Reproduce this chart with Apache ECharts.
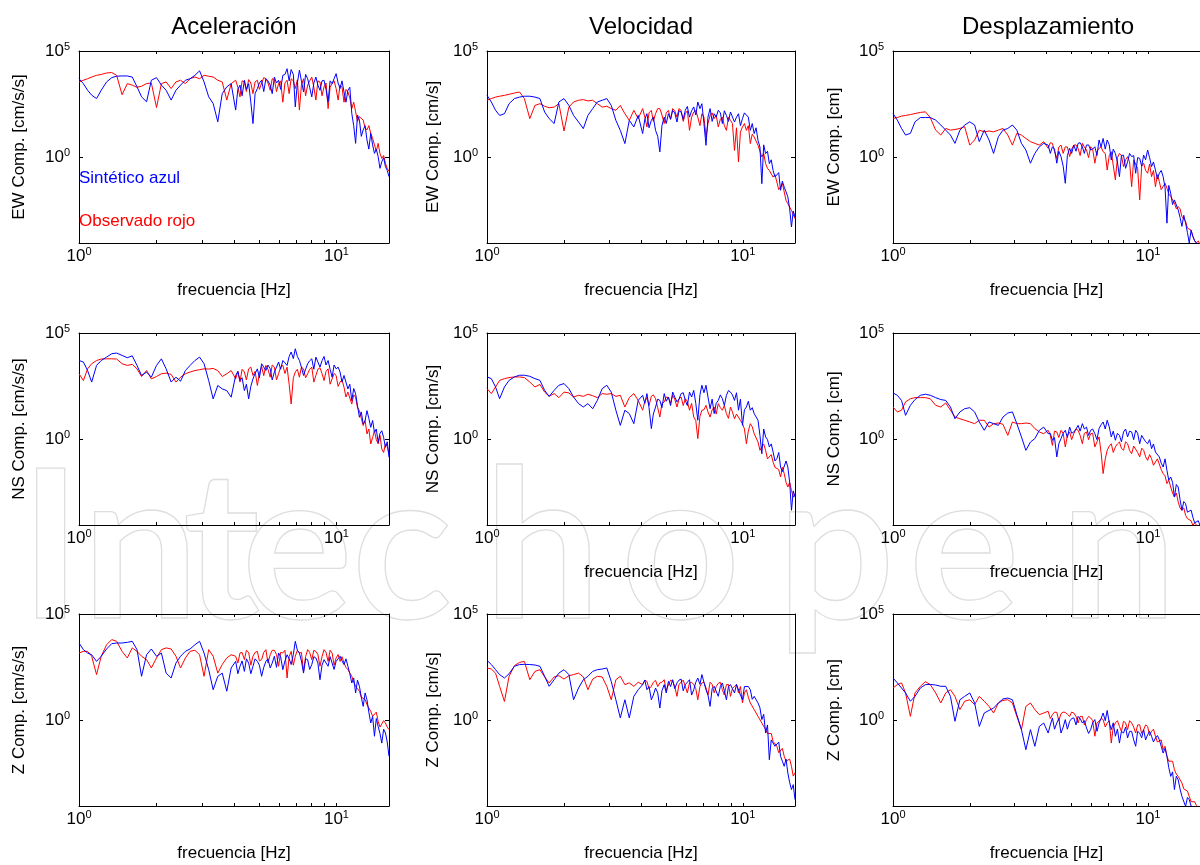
<!DOCTYPE html>
<html>
<head>
<meta charset="utf-8">
<script src="https://cdn.jsdelivr.net/npm/echarts@6/dist/echarts.min.js"></script>
<style>
  html, body { margin: 0; padding: 0; background: #fff; }
  #container { width: 1200px; height: 865px; }
</style>
</head>
<body>
<div id="container"></div>
<script>
// frequency samples [Hz], shared by every panel
var freq = [1.00,1.04,1.08,1.12,1.17,1.22,1.28,1.34,1.40,1.47,1.54,1.61,1.68,1.75,1.83,1.91,2.00,2.09,2.18,2.28,
  2.38,2.48,2.59,2.70,2.82,2.94,3.06,3.19,3.32,3.46,3.60,3.75,3.90,
  4.06,4.14,4.22,4.30,4.39,4.47,4.56,4.65,4.74,4.83,4.93,5.02,5.12,5.22,5.32,5.42,5.53,5.63,5.74,5.85,
  5.96,6.07,6.19,6.31,6.43,6.55,6.67,6.80,6.92,7.05,7.18,7.31,7.45,7.59,7.73,7.87,8.02,8.17,8.32,8.47,
  8.63,8.79,8.95,9.11,9.28,9.45,9.62,9.79,9.97,10.15,10.33,10.51,10.70,10.89,11.08,11.27,11.47,11.67,11.87,12.07,
  12.28,12.49,12.70,12.92,13.14,13.36,13.59,13.82,14.05,14.28,14.52,14.76,15.00,15.25,15.50,15.75,16.00];

// spectral amplitudes, log10 of the value
// Obs = observado (rojo), Syn = sintetico (azul)
var accEwObs = [3.55,3.63,3.70,3.78,3.86,3.90,3.97,3.99,3.86,2.95,3.47,3.40,3.30,3.35,3.47,3.50,2.35,3.47,3.55,3.24,
  3.55,3.63,3.47,3.70,3.78,3.70,3.86,3.82,3.78,3.63,3.55,2.70,3.47,
  3.63,3.3,2.85,3.6,3.55,3.1,3.66,3.5,3.00,3.55,3.63,3.2,3.50,3.75,3.70,3.5,3.16,3.7,3.66,3.1,3.47,3.6,2.60,3.5,
  3.63,3.0,3.70,3.6,3.24,3.65,2.23,3.4,3.70,2.9,3.40,3.6,3.78,3.3,2.70,3.6,3.55,2.9,3.32,3.5,2.30,3.3,3.47,3.6,
  3.24,2.7,3.40,3.3,2.60,3.2,3.08,2.8,2.30,2.6,2.15,1.7,1.92,2.0,1.76,1.4,1.30,1.5,1.14,0.9,0.60,0.3,0.67,0.2,
  -0.03,0.1,-0.27,-0.5,-0.65];
var accEwSyn = [3.70,3.47,3.16,2.93,2.77,3.16,3.55,3.75,3.82,3.83,3.83,3.78,3.32,2.85,2.62,3.63,3.75,3.40,3.16,2.70,
  3.16,3.40,3.63,3.70,3.86,4.07,3.55,2.85,2.54,1.68,3.00,3.32,3.47,
  2.23,3.2,3.40,2.9,3.63,3.2,3.47,2.6,1.60,3.0,3.24,3.5,3.63,3.1,3.70,3.6,3.40,3.0,3.78,3.5,3.63,3.2,3.86,3.9,
  4.17,3.6,4.13,3.9,2.38,3.5,4.10,3.6,3.08,3.9,3.70,3.3,2.85,3.5,3.78,3.4,3.16,3.6,3.63,3.2,2.62,3.6,3.47,3.7,
  3.94,3.5,3.24,3.6,3.08,2.6,3.16,3.3,2.07,1.5,0.67,2.0,1.76,1.0,1.30,1.5,0.83,0.4,1.14,0.6,0.20,0.4,0.05,-0.5,
  -0.19,0.0,-0.42,-0.6,-0.89];
var velEwObs = [2.69,2.77,2.84,2.88,2.92,2.97,3.03,3.08,2.77,1.83,2.45,2.53,2.41,2.34,2.37,2.53,1.25,2.37,2.61,2.69,
  2.72,2.66,2.69,2.53,2.37,2.41,2.30,2.22,2.45,2.06,1.75,2.22,1.83,
  2.30,1.9,1.44,2.1,2.22,1.7,2.06,2.3,2.30,2.0,1.60,2.1,2.22,1.8,2.30,2.2,1.90,2.3,2.22,1.7,2.06,2.2,1.28,1.9,
  2.14,2.2,1.90,1.5,2.06,1.9,0.97,1.6,1.98,2.1,1.83,2.0,1.44,1.8,1.90,1.5,1.28,1.9,1.75,1.6,0.34,1.4,-0.20,1.2,
  1.44,1.6,1.28,1.5,0.66,1.1,0.97,0.9,0.58,0.5,0.03,0.2,-0.28,-0.5,-0.60,-0.6,-0.91,-0.8,-1.14,-1.5,-1.38,-1.2,
  -1.61,-2.0,-2.16,-2.1,-2.47,-2.5,-2.86];
var velEwSyn = [2.92,2.61,2.22,1.98,2.06,2.53,2.77,2.84,2.88,2.88,2.84,2.77,2.14,1.83,1.60,2.61,2.77,2.45,1.98,1.67,
  1.36,1.98,2.30,2.61,2.69,2.77,2.45,1.75,1.28,0.66,1.75,1.44,1.98,
  1.13,1.8,2.06,1.4,1.75,1.9,1.28,1.0,0.27,1.5,1.90,1.6,2.06,1.8,2.22,2.1,1.67,2.2,2.14,1.8,2.22,2.4,1.90,2.2,
  2.38,2.0,2.61,2.3,2.53,1.6,0.58,1.9,2.30,1.7,2.06,1.9,2.22,2.1,1.60,2.2,1.98,1.7,2.14,2.2,1.67,1.9,2.06,1.5,
  1.83,2.1,2.06,1.9,1.28,1.6,1.13,1.4,0.81,0.5,-1.22,0.6,0.19,0.3,-0.28,-0.1,-0.60,-0.9,-0.98,-0.7,-1.53,-1.1,
  -1.38,-1.6,-1.84,-2.4,-3.25,-2.5,-2.78];
var dspEwObs = [1.84,1.88,1.95,1.98,2.02,2.07,2.12,2.15,1.88,1.29,1.06,1.37,1.29,1.32,1.37,1.45,0.59,0.83,1.29,1.21,
  1.25,1.21,1.29,1.37,1.06,0.59,1.14,1.06,0.90,0.75,0.67,0.59,0.75,
  0.44,0.7,0.67,0.3,-0.03,0.5,0.59,0.2,0.51,0.5,0.05,0.4,0.59,0.6,0.44,0.1,0.67,0.5,0.36,0.0,0.51,0.4,-0.26,0.3,
  0.44,0.5,0.28,0.2,-0.58,0.1,0.28,0.3,-1.04,0.0,0.20,0.1,-0.42,-0.1,0.05,-0.2,-1.36,-0.1,-0.11,-0.5,-1.98,-0.4,
  -0.26,-0.6,-0.73,-0.3,-0.89,-0.6,-1.36,-0.8,-1.12,-1.5,-1.51,-1.2,-1.43,-1.7,-1.82,-1.8,-2.13,-2.4,-2.29,-2.4,
  -2.76,-2.7,-2.99,-3.3,-3.38,-3.4,-3.69,-3.9,-4.00,-3.9,-4.08];
var dspEwSyn = [2.07,1.76,1.37,1.06,1.14,1.68,1.88,1.88,1.88,1.76,1.53,1.29,1.06,0.67,1.29,1.53,1.68,1.53,0.75,1.29,
  0.83,0.20,0.98,1.29,1.37,1.53,1.29,0.67,0.36,-0.26,0.20,0.51,0.67,
  0.59,0.2,0.51,0.4,-0.26,0.3,0.05,-0.4,-1.20,0.1,0.44,0.2,0.59,0.3,0.67,0.7,0.51,0.2,0.59,0.6,0.36,0.4,0.51,0.1,
  0.83,0.5,0.90,0.4,0.83,0.6,-0.11,0.4,0.20,-0.2,-0.89,0.1,0.12,-0.5,-0.19,0.2,0.05,0.1,-0.73,0.0,-0.03,-0.4,
  0.12,-0.1,0.36,0.0,-0.42,-0.2,-0.58,-1.0,-0.73,-0.6,-0.89,-1.4,-3.07,-1.3,-1.67,-2.2,-1.98,-1.9,-2.45,-2.8,
  -3.22,-2.7,-3.07,-3.5,-4.00,-3.4,-3.69,-3.9,-4.00,-4.1,-4.15];

var accNsObs = [3.09,2.77,3.32,3.56,3.71,3.78,3.79,3.79,3.78,3.56,3.48,3.53,3.32,2.96,3.24,2.85,2.96,3.09,3.12,3.06,
  2.70,2.93,3.09,3.17,3.24,3.28,3.32,3.31,3.34,3.24,2.96,3.09,3.24,
  2.85,3.2,2.70,3.3,3.17,2.8,3.32,3.4,3.01,3.2,2.54,3.1,3.43,3.0,3.48,3.3,2.93,3.5,3.40,2.8,3.09,3.4,3.48,3.1,
  3.40,2.6,1.67,2.9,3.17,3.3,2.93,3.4,3.32,2.9,3.09,3.3,3.40,2.7,3.01,3.3,3.37,3.1,2.77,3.2,3.32,2.6,2.85,3.1,
  3.01,2.5,2.70,2.8,2.46,2.0,2.23,2.3,1.67,2.1,1.99,1.5,1.36,1.0,0.66,0.9,0.27,0.5,-0.20,0.1,0.42,0.0,-0.20,0.2,
  -0.44,-0.6,-0.20,-0.3,-0.67];
var accNsSyn = [3.71,3.64,3.24,2.70,3.48,3.71,3.87,4.03,4.06,3.95,3.84,3.93,3.48,3.01,3.17,2.93,3.48,3.79,3.32,2.70,
  2.93,2.74,3.24,3.48,3.71,3.87,3.56,2.77,1.91,2.54,2.38,2.30,1.99,
  3.01,3.2,2.77,2.9,2.30,2.6,1.91,2.5,2.85,3.1,3.32,2.9,3.56,3.4,3.24,3.5,3.32,2.8,3.17,3.4,3.64,3.3,3.71,3.6,
  3.48,3.9,4.11,3.8,4.26,3.9,3.71,3.4,3.01,3.3,3.56,3.7,3.79,3.3,3.87,3.8,3.40,3.7,3.90,3.5,3.71,3.3,2.93,3.5,
  3.32,3.4,3.17,2.7,3.01,3.1,2.38,2.6,1.83,2.4,2.15,1.6,1.05,1.3,0.74,0.9,1.36,1.0,0.58,0.9,0.34,0.5,-0.13,0.3,
  0.42,0.1,-0.36,-0.1,-0.83];
var velNsObs = [2.39,2.16,2.47,2.78,2.86,2.91,2.94,2.94,2.91,2.70,2.47,2.59,2.23,2.03,2.16,1.97,2.23,2.19,2.00,2.08,
  2.03,2.13,2.06,1.97,2.16,2.13,2.16,2.03,2.08,1.53,1.97,2.16,1.84,
  1.38,1.8,1.97,1.6,2.03,2.1,1.92,1.5,1.06,1.7,1.77,2.0,1.97,1.7,2.08,1.9,1.53,1.9,2.00,1.6,1.92,1.8,1.38,1.7,
  1.06,0.9,0.05,1.1,1.38,1.4,1.61,1.3,1.06,1.4,1.53,1.2,1.69,1.5,1.38,1.6,1.22,1.0,1.53,1.3,0.98,1.2,1.14,0.9,
  0.75,0.5,-0.19,0.4,0.75,0.6,0.28,0.3,-0.11,-0.5,-0.34,-0.2,-0.50,-0.9,-0.81,-0.7,-1.05,-1.3,-1.28,-1.4,-1.75,-1.3,
  -1.59,-2.0,-2.22,-2.0,-2.38,-2.7,-2.53];
var velNsSyn = [2.94,2.86,2.47,1.92,2.47,2.78,2.94,3.02,3.02,2.97,2.86,2.78,2.31,2.03,2.31,2.55,2.63,2.39,2.00,1.69,
  1.53,1.69,1.45,1.84,2.39,2.55,2.23,1.38,0.67,1.38,1.22,0.75,1.84,
  2.08,1.7,2.16,1.5,0.52,1.2,1.53,1.9,1.84,1.5,2.16,1.8,2.00,1.6,2.23,2.0,1.77,1.9,2.16,2.2,1.84,1.6,2.23,2.0,
  2.31,1.7,0.91,2.1,2.55,2.2,2.55,2.0,1.45,1.9,1.22,1.7,1.84,2.1,1.92,1.6,2.08,2.3,2.23,2.1,1.84,2.2,1.38,1.9,
  0.67,1.4,1.53,1.8,1.38,1.5,1.22,1.3,0.91,0.2,-0.66,0.5,0.13,0.0,-0.34,-0.2,-0.58,-1.0,-0.89,-0.6,-1.28,-1.5,
  -1.59,-1.0,-1.28,-2.0,-3.31,-2.4,-2.69];
var dspNsObs = [1.53,1.30,1.38,1.77,1.92,1.97,1.97,1.97,1.92,1.61,1.53,1.72,1.38,1.06,0.98,0.91,0.83,0.75,0.91,0.91,
  0.59,0.75,0.78,0.72,0.20,0.83,0.75,0.75,0.78,0.75,0.52,0.36,0.28,
  0.44,0.2,-0.27,0.4,0.36,0.1,0.44,0.3,-0.34,0.2,0.36,0.0,0.28,0.5,0.44,0.2,-0.19,0.3,0.36,0.0,0.28,0.3,-0.34,-0.1,
  0.13,-0.6,-1.59,-0.9,-0.50,-0.3,-0.19,-0.6,-0.34,-0.2,-0.11,-0.4,-0.50,-0.1,-0.19,-0.5,-0.66,-0.3,-0.34,-0.6,
  -0.81,-0.4,-0.50,-0.8,-0.97,-0.7,-0.89,-1.2,-1.13,-0.9,-0.97,-1.4,-1.59,-1.7,-2.06,-1.9,-2.22,-2.5,-2.69,-2.5,
  -2.92,-3.2,-3.31,-3.2,-3.55,-3.7,-3.78,-3.8,-4.02,-3.9,-3.94,-4.1,-4.06];
var dspNsSyn = [2.19,2.08,1.84,1.14,1.61,1.88,2.08,2.13,2.08,1.97,1.88,1.84,1.53,0.98,1.30,1.45,1.50,1.30,0.83,0.44,
  0.83,0.75,0.67,1.06,1.25,1.30,0.75,0.13,-0.50,-0.11,0.05,0.44,0.59,
  0.28,0.3,-0.03,0.1,-0.81,-0.2,0.05,0.3,0.44,0.1,0.59,0.3,0.36,0.5,0.67,0.4,0.75,0.5,0.59,0.2,0.44,0.5,0.28,0.0,
  0.52,0.7,0.83,0.5,0.91,0.6,0.13,0.4,-0.03,0.3,0.20,-0.1,0.36,0.5,0.13,0.4,0.36,0.0,0.44,0.3,-0.19,0.2,0.13,-0.1,
  -0.19,0.0,-0.42,-0.2,-0.58,-0.5,-0.81,-1.1,-1.28,-0.9,-1.44,-1.9,-1.75,-2.0,-2.69,-2.1,-2.22,-2.8,-3.31,-2.9,
  -3.00,-3.4,-3.47,-3.3,-3.63,-3.9,-3.94,-3.8,-4.02];

var accZObs = [3.17,3.25,3.25,3.02,2.16,3.02,3.56,3.80,3.72,3.25,2.94,3.41,3.25,3.02,2.86,2.47,2.94,3.33,3.41,3.36,
  3.02,2.47,2.94,3.25,3.30,3.09,2.08,3.33,3.02,2.23,2.63,2.94,3.09,
  3.02,2.7,3.17,3.2,2.86,3.3,3.20,2.6,3.02,3.2,3.25,2.8,2.86,3.2,3.33,2.7,3.09,3.3,3.30,3.1,2.55,3.2,3.17,3.3,
  2.00,3.0,3.25,2.6,3.02,3.3,3.17,3.2,2.31,3.0,3.33,3.2,2.86,3.3,3.25,3.1,2.55,3.0,3.33,3.2,2.78,3.3,3.17,2.6,
  2.94,3.1,2.78,3.0,2.70,2.5,2.39,2.4,2.08,1.8,1.61,1.7,1.38,1.1,1.14,1.0,0.75,0.8,0.44,0.2,0.20,0.4,-0.03,-0.3,
  -0.27,0.0,-0.11,-0.3,-0.42];
var accZSyn = [3.64,3.33,3.17,3.09,2.78,3.02,3.36,3.61,3.64,3.64,3.67,3.72,3.33,2.08,3.09,3.36,3.02,3.17,2.23,2.00,
  2.70,3.02,3.25,3.36,3.56,3.72,3.17,2.39,1.45,2.08,2.23,1.38,2.47,
  2.78,2.2,2.55,2.8,2.31,2.9,2.70,2.2,2.55,2.9,2.78,2.6,2.08,2.5,2.78,2.9,2.47,2.7,3.02,2.5,3.17,3.0,2.39,2.8,
  3.09,2.9,2.63,3.1,3.72,3.3,3.17,2.8,2.23,2.9,2.86,2.4,2.63,3.0,2.94,2.7,1.92,2.6,2.86,2.9,2.55,3.0,2.94,2.4,
  2.78,2.9,3.02,2.8,2.63,2.9,2.55,2.2,1.77,2.0,1.30,1.9,1.61,1.1,0.67,1.3,0.98,0.4,-0.11,0.2,-0.73,0.1,-0.27,-0.6,
  -1.05,-0.4,-0.58,-1.0,-1.67];
var velZObs = [2.47,2.42,2.23,1.61,0.90,2.08,2.58,2.73,2.78,1.92,2.31,2.39,2.05,1.77,2.05,2.11,1.95,2.11,2.16,2.23,
  2.05,1.45,1.95,2.08,2.05,1.61,0.98,1.92,2.08,1.69,1.77,1.61,1.80,
  1.69,1.9,1.84,1.5,1.61,1.8,1.89,1.6,1.77,1.8,1.92,1.4,1.69,1.9,1.84,1.6,1.14,1.7,1.80,1.9,1.61,1.3,1.77,1.8,
  1.69,1.5,0.98,1.6,1.77,1.8,1.53,1.2,1.80,1.7,1.30,1.6,1.75,1.8,1.45,1.2,1.69,1.7,1.14,1.5,1.61,1.7,1.30,1.6,
  0.83,1.3,1.45,1.1,0.83,0.9,0.52,0.5,0.20,0.2,-0.11,-0.1,-0.42,-0.6,-0.58,-0.6,-0.97,-0.9,-1.20,-1.5,-1.52,-1.3,
  -1.67,-1.9,-1.98,-1.8,-2.14,-2.6,-2.45];
var velZSyn = [2.83,2.63,2.39,2.16,2.00,2.20,2.55,2.63,2.64,2.63,2.61,2.55,2.08,1.61,1.92,2.23,2.39,2.16,0.98,1.53,
  1.92,2.08,2.31,2.39,2.42,2.47,1.84,0.98,0.13,0.98,0.13,1.14,1.45,
  1.69,1.9,1.45,1.6,0.98,1.2,1.53,1.3,0.59,1.4,1.69,1.3,1.84,1.6,1.92,1.5,1.77,1.9,1.95,1.4,1.69,1.8,1.92,1.2,
  1.45,1.8,2.00,1.7,2.16,1.8,1.45,1.2,0.67,1.5,1.61,1.7,1.14,1.6,1.77,1.4,0.98,1.6,1.69,1.5,1.30,1.7,1.61,1.2,
  0.98,1.6,1.53,1.6,1.45,1.0,1.14,1.2,0.83,0.6,0.05,0.3,-0.58,-0.2,-1.83,-0.9,-0.89,-1.2,-1.20,-1.0,-1.67,-1.9,
  -2.14,-1.8,-2.45,-2.9,-3.23,-3.0,-3.70];
var dspZObs = [1.53,1.69,1.77,1.30,0.20,1.30,1.61,1.83,1.69,1.30,0.83,1.30,1.45,1.14,0.52,0.91,0.98,0.75,1.14,0.91,
  0.67,0.36,0.83,0.95,0.98,0.83,0.20,-0.42,0.67,0.83,0.52,0.28,0.36,
  0.44,0.1,0.28,0.4,0.39,0.0,0.33,0.4,0.39,0.3,0.20,0.4,0.36,0.2,-0.11,0.2,0.20,-0.2,0.05,0.2,0.13,0.0,-0.73,-0.1,
  -0.03,0.1,0.05,-0.3,-0.11,0.0,-1.05,-0.3,-0.11,0.0,-0.27,-0.5,-0.03,-0.1,-0.42,0.0,-0.11,-0.3,-0.58,-0.2,-0.19,-0.6,
  -0.42,-0.2,-0.27,-0.7,-0.50,-0.4,-0.73,-1.0,-0.97,-0.9,-1.36,-1.2,-1.67,-1.9,-1.98,-1.9,-2.30,-2.5,-2.61,-2.6,
  -2.92,-3.2,-3.23,-3.3,-3.55,-3.8,-3.86,-3.8,-3.98,-4.1,-4.10];
var dspZSyn = [2.00,1.77,1.53,1.30,0.91,1.14,1.53,1.69,1.70,1.67,1.61,1.61,1.14,-0.03,0.98,1.14,1.30,0.83,-0.27,0.36,
  0.48,0.59,0.83,1.02,1.06,0.98,0.28,-0.42,-1.36,-0.42,-1.20,-0.27,-0.11,
  -0.58,-0.2,0.13,-0.4,-0.11,0.1,-0.58,-0.3,0.05,-0.4,-0.03,0.1,0.13,-0.2,0.20,0.1,-0.11,0.0,-0.34,-0.6,-0.42,-0.1,
  0.05,-0.5,-0.11,0.1,0.36,0.0,0.48,-0.1,-0.42,-0.1,-0.73,-0.4,-1.05,-0.5,-0.58,-0.3,-0.81,-0.5,-0.50,-0.9,-1.20,-0.5,
  -0.58,-0.8,-0.42,-0.9,-0.66,-0.5,-0.73,-1.0,-0.81,-0.7,-0.89,-1.2,-1.52,-1.3,-1.67,-2.2,-2.61,-2.4,-3.23,-2.6,
  -2.77,-3.2,-3.55,-3.6,-4.02,-3.6,-3.70,-4.0,-4.02,-4.1,-4.10,-4.1,-4.10];

// texts and ticks
var colTitles = ['Aceleración', 'Velocidad', 'Desplazamiento'];
var compNames = ['EW', 'NS', 'Z'];
var units = ['[cm/s/s]', '[cm/s]', '[cm]'];
var xTickVals = [1, 2, 3, 4, 5, 6, 7, 8, 9, 10];
var xLabelVals = [1, 10];
var yTickVals = [1, 100000];
var xName = 'frecuencia [Hz]';

// panels[row][col] = [observado, sintetico]
var panels = [
  [[accEwObs, accEwSyn], [velEwObs, velEwSyn], [dspEwObs, dspEwSyn]],
  [[accNsObs, accNsSyn], [velNsObs, velNsSyn], [dspNsObs, dspNsSyn]],
  [[accZObs, accZSyn], [velZObs, velZSyn], [dspZObs, dspZSyn]]
];

var FONT = '"Liberation Sans", Arial, Helvetica, sans-serif';
var colLeft = [79, 487, 893];
var colWidth = [310, 308, 310];
var rowTop = [51, 333, 614];
var plotH = 192;
var yNameGap = [51, 45, 50];

var labelRich = {
  b: { fontSize: 17, lineHeight: 20, fontFamily: FONT, color: '#000' },
  s: { fontSize: 11, lineHeight: 11, padding: [0, 0, 9, 0], fontFamily: FONT, color: '#000' }
};
function powLabel(v) {
  return '{b|10}{s|' + Math.round(Math.log10(v)) + '}';
}

var grids = [], xAxes = [], yAxes = [], series = [];
var badLen = [];

for (var r = 0; r < 3; r++) {
  for (var c = 0; c < 3; c++) {
    var g = r * 3 + c;
    grids.push({ left: colLeft[c], top: rowTop[r], width: colWidth[c], height: plotH, containLabel: false });

    var showXName = !(r === 1 && c === 0);
    ['bottom', 'top'].forEach(function (pos) {
      xAxes.push({
        type: 'log', logBase: 10, gridIndex: g, position: pos, min: 1, max: 16,
        axisLine: { show: true, onZero: false, lineStyle: { color: '#000', width: 1 } },
        axisTick: { show: true, inside: true, length: 3, customValues: xTickVals, lineStyle: { color: '#000' } },
        axisLabel: {
          show: pos === 'bottom', customValues: xLabelVals, formatter: powLabel,
          margin: 3, rich: labelRich
        },
        splitLine: { show: false },
        name: (pos === 'bottom' && showXName) ? xName : '',
        nameLocation: 'middle', nameGap: 39,
        nameTextStyle: { fontSize: 17, fontFamily: FONT, color: '#000' }
      });
    });
    ['left', 'right'].forEach(function (pos) {
      yAxes.push({
        type: 'log', logBase: 10, gridIndex: g, position: pos, min: 0.0001, max: 100000,
        axisLine: { show: true, onZero: false, lineStyle: { color: '#000', width: 1 } },
        axisTick: { show: true, inside: true, length: 4, customValues: yTickVals, lineStyle: { color: '#000' } },
        axisLabel: {
          show: pos === 'left', customValues: yTickVals, formatter: powLabel,
          margin: 9, rich: labelRich
        },
        splitLine: { show: false },
        name: pos === 'left' ? compNames[r] + ' Comp. ' + units[c] : '',
        nameLocation: 'middle', nameRotate: 90, nameGap: yNameGap[c],
        nameTextStyle: { fontSize: 17, fontFamily: FONT, color: '#000' }
      });
    });

    var pair = panels[r][c];
    [[pair[0], '#ff0000'], [pair[1], '#0000ff']].forEach(function (sc) {
      if (sc[0].length !== freq.length) badLen.push(r + '' + c + ':' + sc[0].length);
      series.push({
        type: 'line', xAxisIndex: g * 2, yAxisIndex: g * 2,
        data: freq.map(function (f, i) { return [f, Math.pow(10, sc[0][i])]; }),
        showSymbol: false, symbol: 'none', clip: true,
        lineStyle: { color: sc[1], width: 1 }, itemStyle: { color: sc[1] },
        z: 3
      });
    });
  }
}

// titles, in-plot notes and the faint watermark
var graphics = [];
var wmLetters = [['I', 20], ['n', 82], ['t', 183], ['e', 242], ['c', 352], ['h', 484], ['o', 621], ['p', 777], ['e', 909], ['n', 1060]];
wmLetters.forEach(function (l) {
  graphics.push({
    type: 'text', x: l[1], y: 551, z: 0, silent: true,
    style: { text: l[0], font: 'bold 207px Lato, "Liberation Sans", sans-serif', fill: 'rgba(0,0,0,0)',
      stroke: '#dedede', lineWidth: 1.3, align: 'left', verticalAlign: 'middle' }
  });
});
colTitles.forEach(function (t, c) {
  graphics.push({
    type: 'text', x: colLeft[c] + colWidth[c] / 2, y: 27, z: 10,
    style: { text: t, font: '24px ' + FONT, fill: '#000', align: 'center', verticalAlign: 'middle' }
  });
});
graphics.push({
  type: 'text', x: 79, y: 178, z: 10,
  style: { text: 'Sintético azul', font: '17px ' + FONT, fill: '#0000ff', align: 'left', verticalAlign: 'middle' }
});
graphics.push({
  type: 'text', x: 79, y: 221, z: 10,
  style: { text: 'Observado rojo', font: '17px ' + FONT, fill: '#ff0000', align: 'left', verticalAlign: 'middle' }
});
if (badLen.length) {
  graphics.push({ type: 'text', x: 5, y: 5, style: { text: 'len ' + freq.length + ' ' + badLen.join(' '), fill: '#f0f', font: '12px sans-serif' } });
}

var myChart = echarts.init(document.getElementById('container'));
myChart.setOption({
  backgroundColor: '#fff',
  animation: false,
  grid: grids,
  xAxis: xAxes,
  yAxis: yAxes,
  series: series,
  graphic: graphics
});
</script>
</body>
</html>
